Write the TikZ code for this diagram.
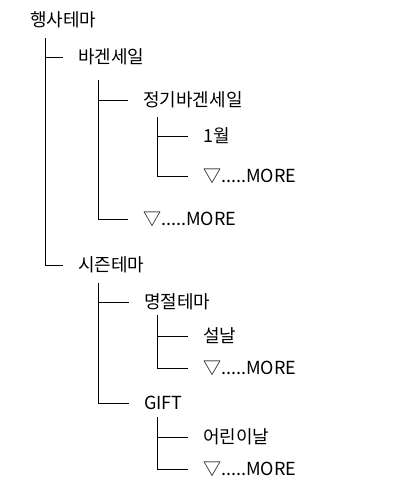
\documentclass[tikz,border=0pt]{standalone}
\usepackage{fontspec}
\setmainfont{Noto Sans CJK KR}
\begin{document}
\begin{tikzpicture}[x=1pt,y=-1pt,
  lbl/.style={anchor=west,inner sep=0pt,font=\fontsize{18}{20}\selectfont},
  conn/.style={draw=black,line width=0.9pt}]
\useasboundingbox (0,0) rectangle (409,493);
% nodes
\node[lbl] (root) at (30,20) {행사테마};
\node[lbl] (a) at (78,57) {바겐세일};
\node[lbl] (a1) at (143,100) {정기바겐세일};
\node[lbl] (a11) at (203,136) {1월};
\node[lbl] (a12) at (203,176) {▽.....MORE};
\node[lbl] (a2) at (143,219) {▽.....MORE};
\node[lbl] (b) at (78,265) {시즌테마};
\node[lbl] (b1) at (144,302) {명절테마};
\node[lbl] (b11) at (203,336) {설날};
\node[lbl] (b12) at (203,368) {▽.....MORE};
\node[lbl] (b2) at (144,403) {GIFT};
\node[lbl] (b21) at (203,437) {어린이날};
\node[lbl] (b22) at (203,469) {▽.....MORE};
% branch tops
\coordinate (rv) at (45,38);
\coordinate (av) at (98,80);
\coordinate (a1v) at (157,117);
\coordinate (bv) at (98,283);
\coordinate (b1v) at (157,315);
\coordinate (b2v) at (157,417);
% connectors
\draw[conn] (rv) |- ([xshift=-15pt]a.west);
\draw[conn] (rv) |- ([xshift=-15pt]b.west);
\draw[conn] (av) |- ([xshift=-15pt]a1.west);
\draw[conn] (av) |- ([xshift=-15pt]a2.west);
\draw[conn] (a1v) |- ([xshift=-15pt]a11.west);
\draw[conn] (a1v) |- ([xshift=-15pt]a12.west);
\draw[conn] (bv) |- ([xshift=-15pt]b1.west);
\draw[conn] (bv) |- ([xshift=-15pt]b2.west);
\draw[conn] (b1v) |- ([xshift=-15pt]b11.west);
\draw[conn] (b1v) |- ([xshift=-15pt]b12.west);
\draw[conn] (b2v) |- ([xshift=-15pt]b21.west);
\draw[conn] (b2v) |- ([xshift=-15pt]b22.west);
\end{tikzpicture}
\end{document}
